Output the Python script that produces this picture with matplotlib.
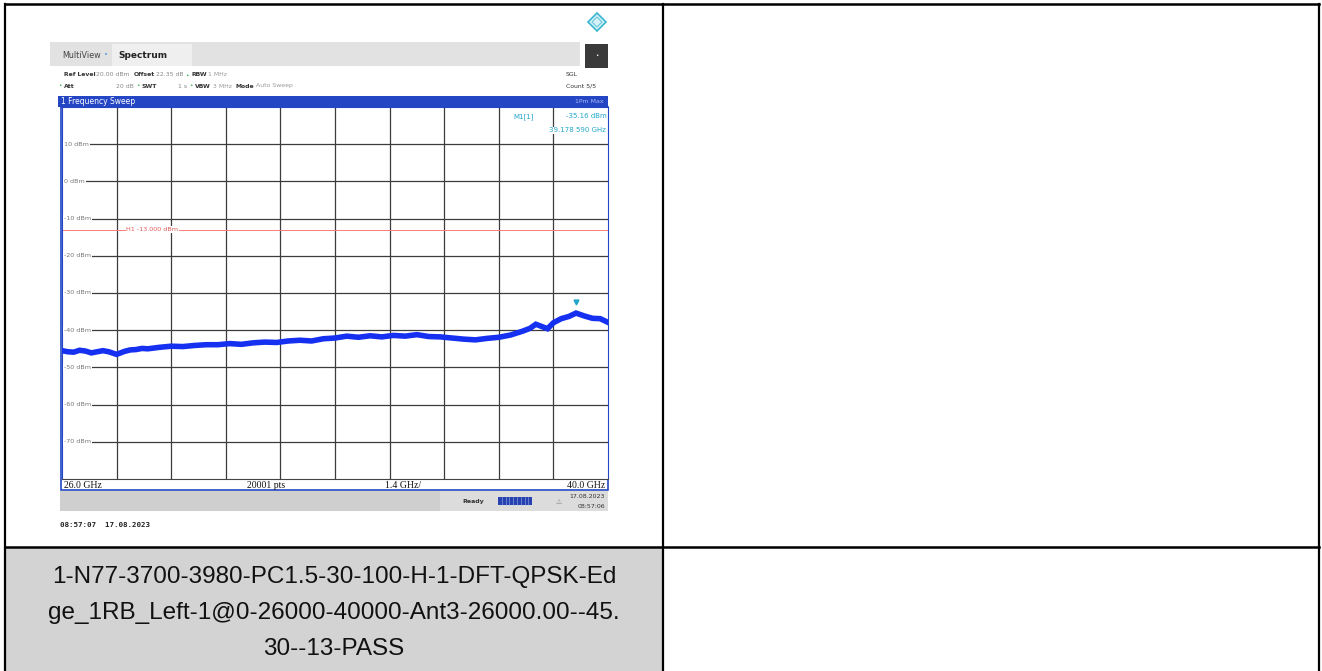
import matplotlib
matplotlib.use("Agg")
import matplotlib.pyplot as plt
from matplotlib.patches import Rectangle, Polygon
from matplotlib.transforms import offset_copy

# spectrum trace (GHz, dBm)
freq_ghz = [26.0, 26.15, 26.3, 26.45, 26.6, 26.75, 26.9, 27.05, 27.2, 27.4,
            27.6, 27.75, 27.9, 28.05, 28.2, 28.5, 28.8, 29.1, 29.4, 29.7,
            30.0, 30.3, 30.6, 30.9, 31.2, 31.5, 31.8, 32.1, 32.4, 32.7,
            33.0, 33.3, 33.6, 33.9, 34.2, 34.5, 34.8, 35.1, 35.4, 35.7,
            36.0, 36.3, 36.6, 36.9, 37.2, 37.5, 37.8, 38.0, 38.15, 38.3,
            38.45, 38.6, 38.8, 39.0, 39.18, 39.4, 39.6, 39.8, 40.0]
level_dbm = [-45.5, -45.8, -45.9, -45.4, -45.6, -46.1, -45.8, -45.5, -45.8, -46.5,
             -45.7, -45.3, -45.2, -44.9, -45.0, -44.6, -44.3, -44.4, -44.1, -43.9,
             -43.9, -43.6, -43.8, -43.4, -43.2, -43.3, -42.9, -42.7, -42.9, -42.3,
             -42.1, -41.6, -41.9, -41.5, -41.8, -41.4, -41.6, -41.2, -41.7, -41.8,
             -42.1, -42.4, -42.6, -42.2, -41.9, -41.3, -40.3, -39.5, -38.4, -39.0,
             -39.6, -38.0, -36.9, -36.3, -35.4, -36.2, -36.8, -36.9, -37.9]

f_start, f_stop, f_div = 26.0, 40.0, 1.4
ref_level, bottom_level = 20, -80
level_ticks = [10, 0, -10, -20, -30, -40, -50, -60, -70]
limit_dbm = -13.0
m1_freq, m1_level = 39.178590, -35.16

caption = ["1-N77-3700-3980-PC1.5-30-100-H-1-DFT-QPSK-Ed",
           "ge_1RB_Left-1@0-26000-40000-Ant3-26000.00--45.",
           "30--13-PASS"]

W, H = 1322, 671
fig = plt.figure(figsize=(W / 100, H / 100), dpi=100)
bg = fig.add_axes([0, 0, 1, 1])
bg.set_xlim(0, W)
bg.set_ylim(H, 0)
bg.axis("off")

# table cells and borders
bg.add_patch(Rectangle((5, 547), 658, 130, fc="#d3d3d3", ec="none"))
for x in [5, 663, 1319]:
    bg.plot([x, x], [4, H], color="black", lw=1.6)
bg.plot([5, 1319], [4, 4], color="black", lw=1.8)
bg.plot([5, 1319], [547, 547], color="black", lw=1.8)

for i, line in enumerate(caption):
    bg.text(334, 577 + i * 36, line, ha="center", va="center",
            fontsize=17.5, family="Liberation Sans", color="#111111")

# analyzer header chrome
bg.add_patch(Rectangle((50, 42), 530, 24, fc="#e2e2e2", ec="none"))
bg.add_patch(Rectangle((112, 44), 80, 22, fc="#efefef", ec="none"))
bg.text(62, 55, "MultiView", fontsize=5.8, color="#444444", va="center")
bg.text(104, 55, "•", fontsize=5, color="#5aa0e0", va="center")
bg.text(118, 55, "Spectrum", fontsize=6.5, color="#222222", va="center", weight="bold")
bg.add_patch(Rectangle((585, 44), 23, 24, fc="#3a3a3a", ec="none"))
bg.text(596.5, 56, "•", fontsize=4, color="white", ha="center", va="center")
bg.add_patch(Polygon([[597, 13], [606, 22], [597, 31], [588, 22]], closed=True,
                     fc="#d6f1f7", ec="#39b6cf", lw=1.2))
bg.add_patch(Polygon([[597, 17], [602, 22], [597, 27], [592, 22]], closed=True,
                     fc="none", ec="#6ac8dc", lw=0.8))

small = dict(fontsize=4.4, va="center")
row1 = 75
row2 = 86
bg.text(64, row1, "Ref Level", color="#333333", weight="bold", **small)
bg.text(96, row1, "20.00 dBm", color="#888888", **small)
bg.text(134, row1, "Offset", color="#333333", weight="bold", **small)
bg.text(156, row1, "22.35 dB", color="#888888", **small)
bg.text(185, row1, "•", color="#3cb04a", **small)
bg.text(191, row1, "RBW", color="#333333", weight="bold", **small)
bg.text(208, row1, "1 MHz", color="#999999", **small)
bg.text(58, row2, "•", color="#3cb04a", **small)
bg.text(64, row2, "Att", color="#333333", weight="bold", **small)
bg.text(116, row2, "20 dB", color="#888888", **small)
bg.text(136, row2, "•", color="#3cb04a", **small)
bg.text(142, row2, "SWT", color="#333333", weight="bold", **small)
bg.text(178, row2, "1 s", color="#888888", **small)
bg.text(189, row2, "•", color="#3cb04a", **small)
bg.text(195, row2, "VBW", color="#333333", weight="bold", **small)
bg.text(213, row2, "3 MHz", color="#999999", **small)
bg.text(236, row2, "Mode", color="#333333", weight="bold", **small)
bg.text(256, row2, "Auto Sweep", color="#999999", **small)
bg.text(566, row1, "SGL", color="#333333", **small)
bg.text(566, row2, "Count 5/5", color="#333333", **small)

bg.add_patch(Rectangle((58, 96), 550, 11, fc="#2446c4", ec="none"))
bg.text(61, 101.5, "1 Frequency Sweep", fontsize=5.5, color="white", va="center")
bg.text(604, 101.5, "1Pm Max", fontsize=4.5, color="#a8b8f0", va="center", ha="right")

# bottom label row and status bar
bg.add_patch(Rectangle((61, 107), 547, 383, fc="none", ec="#2446c4", lw=1.2))
serif = dict(fontsize=7, family="Liberation Serif", va="center", color="#111111")
bg.text(64, 485, f"{f_start:.1f} GHz", **serif)
bg.text(247, 485, "20001 pts", **serif)
bg.text(385, 485, f"{f_div:.1f} GHz/", **serif)
bg.text(605, 485, f"{f_stop:.1f} GHz", ha="right", **serif)

bg.add_patch(Rectangle((60, 491), 548, 20, fc="#cfcfcf", ec="none"))
bg.add_patch(Rectangle((440, 491), 168, 20, fc="#dcdcdc", ec="none"))
bg.text(462, 502, "Ready", fontsize=4.5, color="#333333", va="center", weight="bold")
bg.add_patch(Rectangle((498, 497), 34, 8, fc="#2841b0", ec="none"))
for k in range(1, 9):
    bg.plot([498 + k * 3.8, 498 + k * 3.8], [497, 505], color="#9fb0e8", lw=0.4)
bg.text(559, 502, "⚠", fontsize=5, color="#888888", va="center", ha="center")
bg.text(605, 497, "17.08.2023", fontsize=4.5, color="#333333", va="center", ha="right")
bg.text(605, 506, "08:57:06", fontsize=4.5, color="#333333", va="center", ha="right")

bg.text(60, 525, "08:57:07  17.08.2023", fontsize=5.4, family="DejaVu Sans Mono",
        weight="bold", color="#222222", va="center")

# spectrum plot
ax = fig.add_axes([62 / W, 1 - 479 / H, 546 / W, 372 / H])
ax.set_xlim(f_start, f_stop)
ax.set_ylim(bottom_level, ref_level)
ax.set_xticks([])
ax.set_yticks([])
for side in ["left", "right", "top"]:
    ax.spines[side].set_color("#2446c4")
ax.spines["bottom"].set_color("#444444")

k = 1
while f_start + k * f_div < f_stop - 0.01:
    ax.axvline(f_start + k * f_div, color="#3c3c3c", lw=0.9, zorder=1)
    k += 1
for lv in level_ticks:
    ax.axhline(lv, color="#3c3c3c", lw=0.9, zorder=1)
    ax.text(f_start + 0.05, lv, f"{lv} dBm", fontsize=4.6, color="#777777",
            va="center", ha="left", zorder=3,
            bbox=dict(fc="white", ec="none", pad=0.6))

ax.axhline(limit_dbm, color="#ff7a7a", lw=0.7, zorder=2)
ax.text(27.65, limit_dbm, f"H1 {limit_dbm:.3f} dBm", fontsize=4.6, color="#e05a5a",
        va="center", ha="left", zorder=3, bbox=dict(fc="white", ec="none", pad=0.6))

ax.plot(freq_ghz, level_dbm, color="#1630f2", lw=4.0, zorder=4, solid_joinstyle="miter")

cyan = "#22a6c8"
up = offset_copy(ax.transData, fig=fig, x=0, y=10, units="dots")
ax.plot([m1_freq], [m1_level], marker="v", ms=3.5, color=cyan, transform=up, zorder=5)
m1_txt = f"{m1_freq:.6f}"
ax.text(0.827, 0.975, "M1[1]", transform=ax.transAxes, fontsize=5, color=cyan,
        va="center", ha="left", zorder=5, bbox=dict(fc="white", ec="none", pad=0.4))
ax.text(0.997, 0.975, f"{m1_level:.2f} dBm", transform=ax.transAxes, fontsize=5,
        color=cyan, va="center", ha="right", zorder=5, bbox=dict(fc="white", ec="none", pad=0.4))
ax.text(0.997, 0.937, f"{m1_txt[:-3]} {m1_txt[-3:]} GHz",
        transform=ax.transAxes, fontsize=5, color=cyan, va="center", ha="right",
        zorder=5, bbox=dict(fc="white", ec="none", pad=0.4))

fig.savefig("out.png", dpi=100)
